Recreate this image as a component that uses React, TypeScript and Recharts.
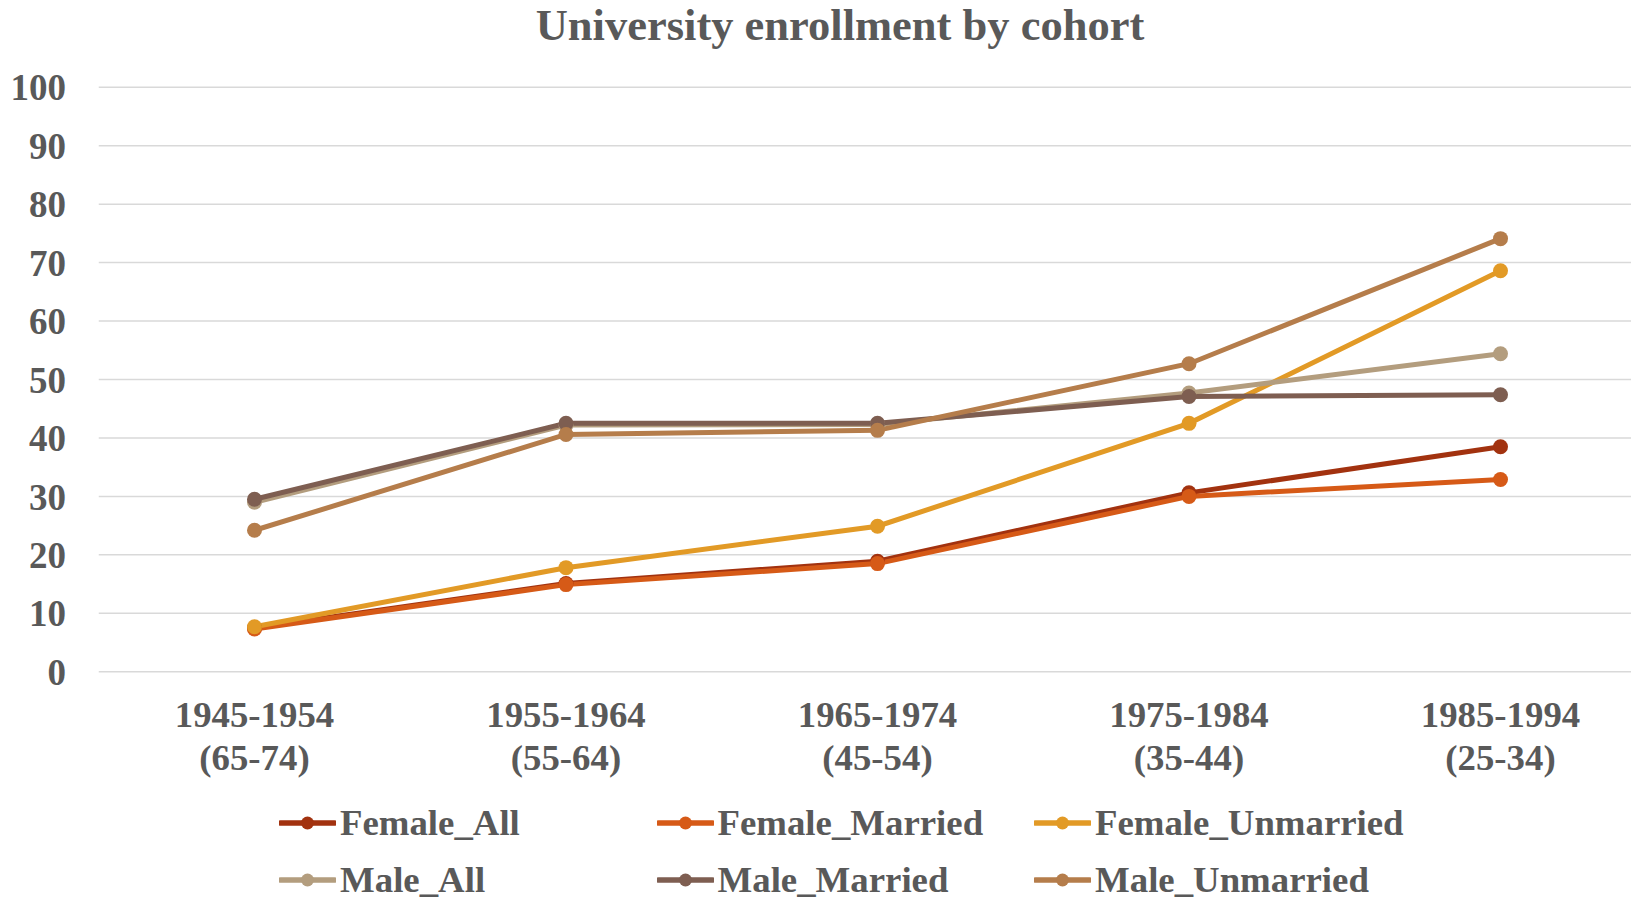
import React from 'react';
import { LineChart, Line, XAxis, YAxis, CartesianGrid, Legend } from 'recharts';

const cohortYears = ['1945-1954', '1955-1964', '1965-1974', '1975-1984', '1985-1994'];
const cohortAges = ['(65-74)', '(55-64)', '(45-54)', '(35-44)', '(25-34)'];
const yTicks = [0, 10, 20, 30, 40, 50, 60, 70, 80, 90, 100];

const femaleAll = [7.5, 15.1, 18.9, 30.6, 38.5];
const femaleMarried = [7.3, 14.9, 18.5, 30.0, 32.9];
const femaleUnmarried = [7.7, 17.8, 24.9, 42.5, 68.6];
const maleAll = [29.0, 42.2, 42.3, 47.7, 54.4];
const maleMarried = [29.5, 42.5, 42.5, 47.1, 47.4];
const maleUnmarried = [24.2, 40.6, 41.3, 52.7, 74.1];

const seriesNames = ['Female_All', 'Female_Married', 'Female_Unmarried', 'Male_All', 'Male_Married', 'Male_Unmarried'];
const seriesValues = [femaleAll, femaleMarried, femaleUnmarried, maleAll, maleMarried, maleUnmarried];
const seriesColors = ['#A2320F', '#D65A17', '#E29A26', '#B39D7E', '#7E5E51', '#B57D4B'];

const data = cohortYears.map((c, i) => {
  const row: Record<string, any> = { cohort: c, age: cohortAges[i] };
  seriesNames.forEach((n, k) => {
    row[n] = seriesValues[k][i];
  });
  return row;
});

const FONT = '"Liberation Serif", "Times New Roman", serif';
const TEXT = '#595959';

const XTick = (props: any) => {
  const { x, y, payload, index } = props;
  return (
    <text x={x} y={y} textAnchor="middle" fill={TEXT} fontFamily={FONT} fontWeight="bold" fontSize={36.8}>
      <tspan x={x} dy={55.6}>{payload.value}</tspan>
      <tspan x={x} dy={43}>{cohortAges[index]}</tspan>
    </text>
  );
};

const LegendContent = (props: any) => {
  const payload = props.payload || [];
  return (
    <div
      style={{
        display: 'grid',
        gridTemplateColumns: 'repeat(3, 377.5px)',
        gridAutoRows: '56.7px',
      }}
    >
      {payload.map((p: any) => (
        <div key={p.value} style={{ display: 'flex', alignItems: 'center', height: 56.7 }}>
          <svg width={57} height={16} style={{ display: 'block' }}>
            <line x1={1.5} y1={8} x2={55.5} y2={8} stroke={p.color} strokeWidth={5.5} strokeLinecap="round" />
            <circle cx={28.5} cy={8} r={6.5} fill={p.color} />
          </svg>
          <span
            style={{
              fontFamily: FONT,
              fontWeight: 'bold',
              fontSize: 36.8,
              color: TEXT,
              lineHeight: '56.7px',
              marginLeft: 4,
              whiteSpace: 'nowrap',
            }}
          >
            {p.value}
          </span>
        </div>
      ))}
    </div>
  );
};

export default function App() {
  return (
    <div style={{ width: 1630, height: 891, overflow: 'hidden', position: 'relative' }}>
      <LineChart
        width={1660}
        height={891}
        data={data}
        margin={{ top: 79.3, right: 11.75, bottom: 167.3, left: 0 }}
      >
        <text
          x={832}
          y={32}
          textAnchor="middle"
          fill={TEXT}
          fontFamily={FONT}
          fontWeight="bold"
          fontSize={44.5}
        >
          University enrollment by cohort
        </text>
        <CartesianGrid vertical={false} stroke="#D9D9D9" strokeWidth={1.5} />
        <XAxis
          dataKey="cohort"
          axisLine={false}
          tickLine={false}
          tickSize={0}
          tickMargin={0}
          height={60}
          padding={{ left: 155.75, right: 155.75 }}
          interval={0}
          tick={<XTick />}
        />
        <YAxis
          domain={[0, 100]}
          ticks={yTicks}
          width={90.75}
          axisLine={false}
          tickLine={false}
          tickSize={0}
          tickMargin={32.75}
          interval={0}
          tick={{ fontSize: 37, fontWeight: 'bold', fill: TEXT, fontFamily: FONT }}
        />
        <Legend
          layout="vertical"
          align="center"
          verticalAlign="middle"
          content={<LegendContent />}
          wrapperStyle={{ left: 271, top: 787, width: 1200, height: 114 }}
        />
        {seriesNames.map((n, k) => (
          <Line
            key={n}
            type="linear"
            dataKey={n}
            name={n}
            stroke={seriesColors[k]}
            strokeWidth={5}
            dot={{ r: 7.5, fill: seriesColors[k], stroke: seriesColors[k], strokeWidth: 0 }}
            activeDot={false}
            isAnimationActive={false}
          />
        ))}
      </LineChart>
    </div>
  );
}
